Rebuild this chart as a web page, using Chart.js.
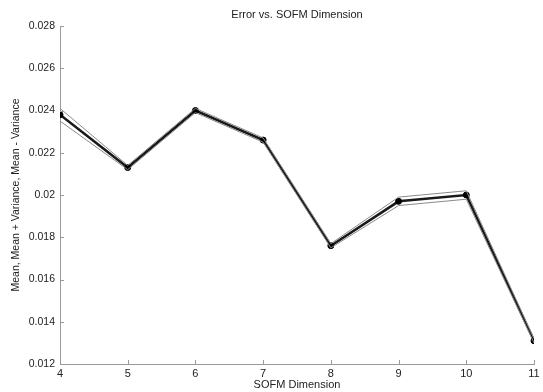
<!DOCTYPE html>
<html>
<head>
<meta charset="utf-8">
<script src="https://cdn.jsdelivr.net/npm/chart.js@4/dist/chart.umd.min.js"></script>
<style>
  html, body { margin: 0; padding: 0; background: #fff; }
  canvas { display: block; }
</style>
</head>
<body>
<canvas id="c" width="543" height="392"></canvas>
<script>
const dimensions = [4, 5, 6, 7, 8, 9, 10, 11];
const meanValues  = [0.0238, 0.0213, 0.0240, 0.0226, 0.0176, 0.0197, 0.0200, 0.0131];
const upperValues = [0.0241, 0.0214, 0.0241, 0.0227, 0.0177, 0.0199, 0.0202, 0.0132];
const lowerValues = [0.0235, 0.0212, 0.0239, 0.0225, 0.0175, 0.0195, 0.0198, 0.0130];
const yTicks = [0.012, 0.014, 0.016, 0.018, 0.02, 0.022, 0.024, 0.026, 0.028];
const chartTitle = 'Error vs. SOFM Dimension';
const xTitle = 'SOFM Dimension';
const yTitle = 'Mean, Mean + Variance, Mean - Variance';

const toPts = vals => dimensions.map((d, i) => ({ x: d, y: vals[i] }));
const FONT = 'Liberation Sans, Arial, sans-serif';

const innerTicks = {
  id: 'innerTicks',
  afterDraw(chart) {
    const ctx = chart.ctx;
    const xs = chart.scales.x, ys = chart.scales.y;
    ctx.save();
    ctx.strokeStyle = '#9a9a9a';
    ctx.lineWidth = 1;
    ctx.beginPath();
    xs.ticks.forEach(t => {
      const px = Math.round(xs.getPixelForValue(t.value)) + 0.5;
      ctx.moveTo(px, xs.top);
      ctx.lineTo(px, xs.top - 4);
    });
    ys.ticks.forEach(t => {
      const py = Math.round(ys.getPixelForValue(t.value)) + 0.5;
      ctx.moveTo(ys.right, py);
      ctx.lineTo(ys.right + 4, py);
    });
    ctx.stroke();
    ctx.fillStyle = '#222';
    ctx.font = '11px ' + FONT;
    ctx.textAlign = 'center';
    ctx.textBaseline = 'middle';
    ctx.fillText(chartTitle, (chart.chartArea.left + chart.chartArea.right) / 2, 15);
    ctx.restore();
  }
};

new Chart(document.getElementById('c'), {
  type: 'line',
  data: {
    datasets: [
      { label: 'Mean + Variance', data: toPts(upperValues), borderColor: '#8a8a8a', borderWidth: 1, pointRadius: 0, tension: 0, fill: false },
      { label: 'Mean - Variance', data: toPts(lowerValues), borderColor: '#8a8a8a', borderWidth: 1, pointRadius: 0, tension: 0, fill: false },
      { label: 'Mean', data: toPts(meanValues), borderColor: '#1a1a1a', borderWidth: 2.5, pointRadius: 3, pointBackgroundColor: '#000', pointBorderColor: '#000', pointBorderWidth: 1, tension: 0, fill: false }
    ]
  },
  options: {
    responsive: false,
    animation: false,
    devicePixelRatio: 1,
    layout: { padding: { top: 26, right: 9, left: 0, bottom: 0 } },
    plugins: { legend: { display: false }, title: { display: false }, tooltip: { enabled: false } },
    scales: {
      x: {
        type: 'linear', min: 4, max: 11,
        afterFit: s => { s.height = 28; },
        grid: { display: false, drawTicks: false },
        border: { display: true, color: '#9a9a9a', width: 1 },
        ticks: { stepSize: 1, padding: 3, color: '#222', font: { family: FONT, size: 11 }, maxRotation: 0 },
        title: { display: true, text: xTitle, color: '#222', font: { family: FONT, size: 11 }, padding: { top: 0, bottom: 0 } }
      },
      y: {
        type: 'linear', min: 0.012, max: 0.028,
        afterFit: s => { s.width = 60; },
        afterBuildTicks: s => { s.ticks = yTicks.map(v => ({ value: v })); },
        grid: { display: false, drawTicks: false },
        border: { display: true, color: '#9a9a9a', width: 1 },
        ticks: { padding: 5, color: '#222', font: { family: FONT, size: 10.5 }, callback: v => String(+v.toFixed(4)) },
        title: { display: true, text: yTitle, color: '#222', font: { family: FONT, size: 10.5 }, padding: { top: 10, bottom: 0 } }
      }
    }
  },
  plugins: [innerTicks]
});
</script>
</body>
</html>
